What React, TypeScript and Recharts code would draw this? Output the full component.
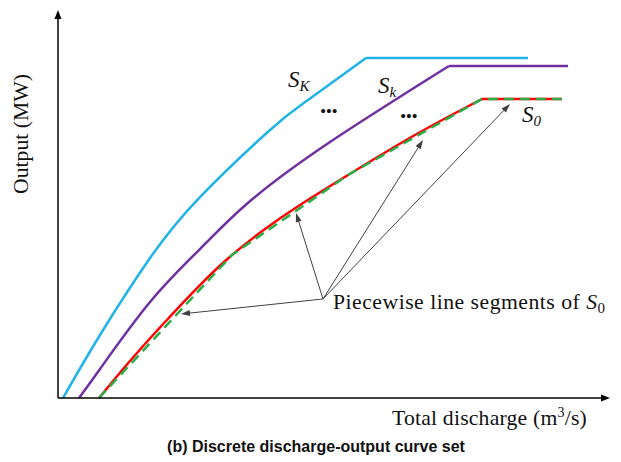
import React from "react";
import { LineChart, Line, XAxis, YAxis, ReferenceLine, ReferenceDot } from "recharts";

// Discharge (x) / output (y) readings, arbitrary 0-100 units
const curveSK = [
  { x: 0.91, y: 0 }, { x: 7.61, y: 16.24 }, { x: 16.67, y: 36.08 }, { x: 25.72, y: 51.8 },
  { x: 38.41, y: 69.07 }, { x: 45.29, y: 76.8 }, { x: 55.8, y: 87.63 },
];
const flatSK = [{ x: 55.8, y: 87.63 }, { x: 85.14, y: 87.63 }];

const curveSk = [
  { x: 3.8, y: 0 }, { x: 7.61, y: 7.47 }, { x: 16.67, y: 24.74 }, { x: 25.72, y: 38.4 },
  { x: 34.6, y: 50.52 }, { x: 49.28, y: 65.98 }, { x: 70.83, y: 85.57 },
];
const flatSk = [{ x: 70.83, y: 85.57 }, { x: 92.39, y: 85.57 }];

const curveS0 = [
  { x: 7.43, y: 0 }, { x: 13.04, y: 9.54 }, { x: 19.38, y: 19.59 }, { x: 25.72, y: 29.12 },
  { x: 31.52, y: 36.86 }, { x: 37.5, y: 43.55 }, { x: 43.84, y: 49.74 }, { x: 52.54, y: 57.47 },
  { x: 64.67, y: 67.78 }, { x: 76.81, y: 77.06 },
];
const flatS0 = [{ x: 76.81, y: 77.06 }, { x: 91.3, y: 77.06 }];

const piecewiseS0 = [
  { x: 7.43, y: 0 }, { x: 31.52, y: 36.86 }, { x: 52.54, y: 57.47 }, { x: 76.81, y: 77.06 },
  { x: 91.3, y: 77.06 },
];

const annotationFrom = { x: 48.01, y: 25.52 };
const annotationTargets = [
  { x: 22.28, y: 21.65 },
  { x: 43.12, y: 47.68 },
  { x: 66.12, y: 66.49 },
  { x: 81.88, y: 75.77 },
];

const SERIF = "'Liberation Serif', 'Times New Roman', serif";
const SANS = "'Liberation Sans', Arial, sans-serif";

const arrowShape = (color: string, w: number, headLen: number, headW: number) => (props: any) => {
  const { x1, y1, x2, y2 } = props;
  const dx = x2 - x1;
  const dy = y2 - y1;
  const len = Math.hypot(dx, dy) || 1;
  const ux = dx / len;
  const uy = dy / len;
  const bx = x2 - ux * headLen;
  const by = y2 - uy * headLen;
  const px = (-uy * headW) / 2;
  const py = (ux * headW) / 2;
  return (
    <g>
      <line x1={x1} y1={y1} x2={bx + ux * 1} y2={by + uy * 1} stroke={color} strokeWidth={w} />
      <polygon points={`${x2},${y2} ${bx + px},${by + py} ${bx - px},${by - py}`} fill={color} />
    </g>
  );
};

const textAt = (render: (cx: number, cy: number) => React.ReactNode) => (props: any) => {
  const { cx, cy } = props;
  return <g>{render(cx, cy)}</g>;
};

export default function App() {
  return (
    <div style={{ position: "absolute", left: 0, top: 0, width: 621, height: 462, background: "#fff" }}>
      <LineChart width={621} height={462} margin={{ top: 10, right: 11, bottom: 64, left: 58 }}>
        <XAxis type="number" dataKey="x" domain={[0, 100]} hide />
        <YAxis type="number" dataKey="y" domain={[0, 100]} hide />

        <Line data={curveSK} dataKey="y" type="natural" stroke="#1FB3E8" strokeWidth={2.5} dot={false} isAnimationActive={false} />
        <Line data={flatSK} dataKey="y" type="linear" stroke="#1FB3E8" strokeWidth={2.5} dot={false} isAnimationActive={false} />
        <Line data={curveSk} dataKey="y" type="natural" stroke="#7030A0" strokeWidth={2.5} dot={false} isAnimationActive={false} />
        <Line data={flatSk} dataKey="y" type="linear" stroke="#7030A0" strokeWidth={2.5} dot={false} isAnimationActive={false} />
        <Line data={curveS0} dataKey="y" type="natural" stroke="#FF0000" strokeWidth={2.5} dot={false} isAnimationActive={false} />
        <Line data={flatS0} dataKey="y" type="linear" stroke="#FF0000" strokeWidth={2.5} dot={false} isAnimationActive={false} />
        <Line data={piecewiseS0} dataKey="y" type="linear" stroke="#2AAE4A" strokeWidth={2.5} strokeDasharray="10 6" dot={false} isAnimationActive={false} />

        {/* axes with arrows */}
        <ReferenceLine segment={[{ x: 0, y: 0 }, { x: 0, y: 100 }]} ifOverflow="visible" shape={arrowShape("#000", 1.5, 9, 7)} />
        <ReferenceLine segment={[{ x: 0, y: 0 }, { x: 100, y: 0 }]} ifOverflow="visible" shape={arrowShape("#000", 1.5, 9, 7)} />

        {annotationTargets.map((t, i) => (
          <ReferenceLine
            key={i}
            segment={[annotationFrom, t]}
            ifOverflow="visible"
            shape={arrowShape("#404040", 1, 9, 6)}
          />
        ))}

        <ReferenceDot x={41.67} y={80.15} r={0} ifOverflow="visible" shape={textAt((cx, cy) => (
          <text x={cx} y={cy} fontFamily={SERIF} fontStyle="italic" fontSize={23} fill="#111">
            S<tspan fontSize={15} dy={4}>K</tspan>
          </text>
        ))} />
        <ReferenceDot x={47.46} y={73.45} r={0} ifOverflow="visible" shape={textAt((cx, cy) => (
          <text x={cx} y={cy} fontFamily={SERIF} fontWeight="bold" fontSize={25} letterSpacing={-0.5} fill="#111">...</text>
        ))} />
        <ReferenceDot x={57.97} y={78.61} r={0} ifOverflow="visible" shape={textAt((cx, cy) => (
          <text x={cx} y={cy} fontFamily={SERIF} fontStyle="italic" fontSize={23} fill="#111">
            S<tspan fontSize={15} dy={4}>k</tspan>
          </text>
        ))} />
        <ReferenceDot x={61.96} y={72.16} r={0} ifOverflow="visible" shape={textAt((cx, cy) => (
          <text x={cx} y={cy} fontFamily={SERIF} fontWeight="bold" fontSize={25} letterSpacing={-0.5} fill="#111">...</text>
        ))} />
        <ReferenceDot x={84.06} y={71.13} r={0} ifOverflow="visible" shape={textAt((cx, cy) => (
          <text x={cx} y={cy} fontFamily={SERIF} fontStyle="italic" fontSize={23} fill="#111">
            S<tspan fontSize={15} dy={4}>0</tspan>
          </text>
        ))} />
        <ReferenceDot x={49.82} y={22.94} r={0} ifOverflow="visible" shape={textAt((cx, cy) => (
          <text x={cx} y={cy} fontFamily={SERIF} fontSize={21.7} letterSpacing={0.5} fill="#111">
            Piecewise line segments of <tspan fontStyle="italic">S</tspan>
            <tspan fontSize={15} dy={4}>0</tspan>
          </text>
        ))} />
        <ReferenceDot x={60.51} y={-6.96} r={0} ifOverflow="visible" shape={textAt((cx, cy) => (
          <text x={cx} y={cy} fontFamily={SERIF} fontSize={21.7} letterSpacing={0.2} fill="#111">
            Total discharge (m<tspan fontSize={14} dy={-8}>3</tspan><tspan dy={8}>/s)</tspan>
          </text>
        ))} />
        <ReferenceDot x={-6.7} y={68.04} r={0} ifOverflow="visible" shape={textAt((cx, cy) => (
          <text x={cx} y={cy} transform={`rotate(-90 ${cx} ${cy})`} textAnchor="middle" dominantBaseline="central" fontFamily={SERIF} fontSize={21.7} fill="#111">
            Output (MW)
          </text>
        ))} />
        <ReferenceDot x={46.74} y={-13.92} r={0} ifOverflow="visible" shape={textAt((cx, cy) => (
          <text x={cx} y={cy} textAnchor="middle" fontFamily={SANS} fontWeight="bold" fontSize={16} fill="#111">
            (b) Discrete discharge-output curve set
          </text>
        ))} />
      </LineChart>
    </div>
  );
}
